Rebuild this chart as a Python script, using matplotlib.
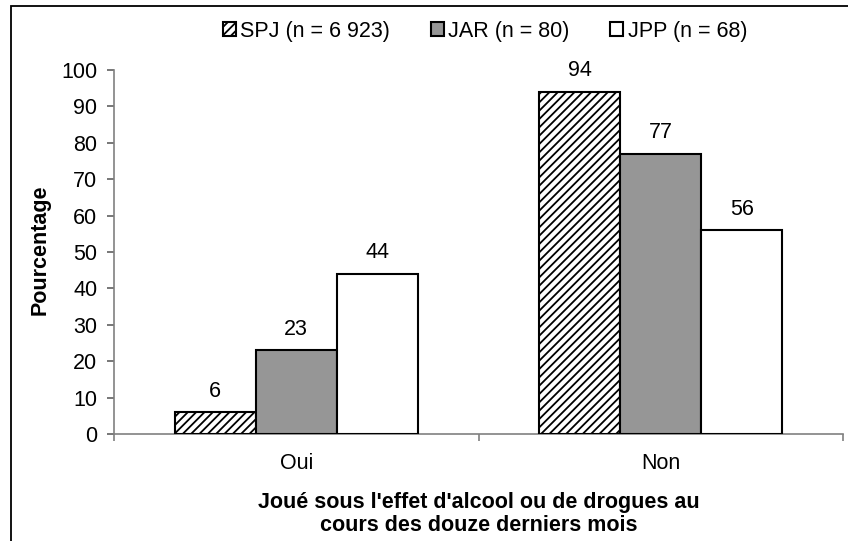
import numpy as np
import matplotlib.pyplot as plt
from matplotlib.patches import Rectangle

plt.rcParams['font.family'] = ['Liberation Sans', 'DejaVu Sans']
plt.rcParams['hatch.linewidth'] = 1.3

categories = ['Oui', 'Non']
series_names = ['SPJ (n = 6 923)', 'JAR (n = 80)', 'JPP (n = 68)']
spj = [6, 94]
jar = [23, 77]
jpp = [44, 56]
y_ticks = [0, 10, 20, 30, 40, 50, 60, 70, 80, 90, 100]

fs = 15.5
W, H = 848, 541
fig = plt.figure(figsize=(W / 100, H / 100), dpi=100)
# axes box in pixels: x 114..843, y 70..434
ax = fig.add_axes([114 / W, 1 - 434 / H, (843 - 114) / W, (434 - 70) / H])

# outer chart frame (cut by the image edge at right and bottom)
fig.patches.append(Rectangle((11 / W, -0.05), 1.1, 1.05 - 6 / H, transform=fig.transFigure,
                             fill=False, edgecolor='black', linewidth=1.3))

x = np.arange(len(categories))
w = 0.222
styles = [dict(color='white', hatch='////'),
          dict(color='#969696'),
          dict(color='white')]
for i, (vals, st) in enumerate(zip([spj, jar, jpp], styles)):
    bars = ax.bar(x + (i - 1) * w, vals, w, facecolor=st['color'], edgecolor='black',
                  linewidth=1.5, hatch=st.get('hatch'), label=series_names[i], zorder=3)
    for b, v in zip(bars, vals):
        ax.text(b.get_x() + b.get_width() / 2, v + 5.8, str(v), ha='center', va='center',
                fontsize=fs)

ax.set_xlim(-0.5, 1.5)
ax.set_ylim(0, 100)
ax.set_yticks(y_ticks)
ax.set_xticks(x)
ax.set_xticklabels(categories, fontsize=fs)
ax.set_xticks([-0.5, 0.5, 1.5], minor=True)
ax.tick_params(axis='x', which='major', length=0, pad=14)
ax.tick_params(axis='x', which='minor', length=5, color='#808080', width=1.2)
ax.tick_params(axis='y', length=5, color='#606060', width=1.2, labelsize=fs, pad=7)

for s in ['top', 'right']:
    ax.spines[s].set_visible(False)
for s in ['left', 'bottom']:
    ax.spines[s].set_color('#808080')
    ax.spines[s].set_linewidth(1.2)

fig.text(40 / W, 1 - 250 / H, 'Pourcentage', rotation=90, ha='center', va='center',
         fontsize=fs, fontweight='bold')
fig.text(478.5 / W, 1 - 514 / H,
         "Joué sous l'effet d'alcool ou de drogues au\ncours des douze derniers mois",
         ha='center', va='center', multialignment='center', fontsize=fs,
         fontweight='bold', linespacing=1.15)

ax.legend(loc='center', bbox_to_anchor=(0.509, 1 + (70 - 31) / 364), ncol=3, frameon=False,
          fontsize=fs, handlelength=0.6, handleheight=0.6, handletextpad=0.2,
          columnspacing=1.9, borderpad=0)

fig.savefig('out.png', dpi=100)
